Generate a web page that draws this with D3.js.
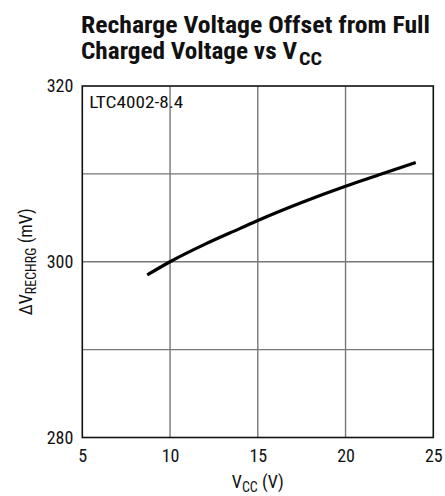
<!DOCTYPE html>
<html>
<head>
<meta charset="utf-8">
<script src="https://cdn.jsdelivr.net/npm/d3@7"></script>
<style>
  body { margin: 0; background: #fff; }
  text { font-family: "Liberation Sans Narrow", "Roboto Condensed", "Liberation Sans", Arial, sans-serif; fill: #111; }
</style>
</head>
<body>
<svg id="chart"></svg>
<script>
// curve
var vcc = [8.7, 10, 12, 14, 15, 17.5, 20, 22, 24];
var dv = [298.5, 300.0, 302.0, 303.8, 304.7, 306.75, 308.6, 309.95, 311.3];
var xTicks = [5, 10, 15, 20, 25];
var yTicks = [280, 290, 300, 310, 320];
var yLabels = [280, 300, 320];

var W = 445, H = 496;
var margin = { left: 82.3, right: 11.7, top: 86, bottom: 58.5 };
var width = W - margin.left - margin.right,
  height = H - margin.top - margin.bottom;
var FONT = '"Liberation Sans Narrow", "Roboto Condensed", "Liberation Sans", Arial, sans-serif';

var svg = d3.select("#chart").attr("width", W).attr("height", H);

var x = d3.scaleLinear().domain([5, 25]).range([0, width]);
var y = d3.scaleLinear().domain([280, 320]).range([height, 0]);

// title
svg.append("text").attr("x", 81).attr("y", 33)
  .attr("textLength", 349).attr("lengthAdjust", "spacingAndGlyphs")
  .style("font-size", "24px").style("font-weight", "bold")
  .text("Recharge Voltage Offset from Full");
svg.append("text").attr("x", 81).attr("y", 59)
  .attr("textLength", 216).attr("lengthAdjust", "spacingAndGlyphs")
  .style("font-size", "24px").style("font-weight", "bold")
  .text("Charged Voltage vs V");
svg.append("text").attr("x", 299).attr("y", 64.5)
  .attr("textLength", 23).attr("lengthAdjust", "spacingAndGlyphs")
  .style("font-size", "18px").style("font-weight", "bold")
  .text("CC");

var g = svg.append("g").attr("transform", `translate(${margin.left},${margin.top})`);

// grid
g.append("g").selectAll("line").data(xTicks.slice(1, -1)).enter().append("line")
  .attr("x1", (d) => x(d)).attr("x2", (d) => x(d))
  .attr("y1", 0).attr("y2", height)
  .style("stroke", "#777").style("stroke-width", 1.4);
g.append("g").selectAll("line").data(yTicks.slice(1, -1)).enter().append("line")
  .attr("y1", (d) => y(d)).attr("y2", (d) => y(d))
  .attr("x1", 0).attr("x2", width)
  .style("stroke", "#777").style("stroke-width", 1.4);

// frame
g.append("rect").attr("width", width).attr("height", height)
  .style("fill", "none").style("stroke", "#111").style("stroke-width", 1.6);

// axes (labels only)
var xAxis = g.append("g").attr("transform", `translate(0,${height})`)
  .call(d3.axisBottom(x).tickValues(xTicks).tickSize(0).tickPadding(12).tickFormat(d3.format("d")));
var yAxis = g.append("g")
  .call(d3.axisLeft(y).tickValues(yLabels).tickSize(0).tickPadding(9).tickFormat(d3.format("d")));
[xAxis, yAxis].forEach(function (a) {
  a.select(".domain").remove();
  a.selectAll("text").style("font-size", "18px").style("fill", "#111").style("font-family", FONT);
});

// curve
var line = d3.line().x((d, i) => x(vcc[i])).y((d) => y(d)).curve(d3.curveMonotoneX);
g.append("path").datum(dv).attr("d", line)
  .style("fill", "none").style("stroke", "#000").style("stroke-width", 3.2);

// part label
g.append("text").attr("x", 7).attr("y", 22)
  .attr("textLength", 94).attr("lengthAdjust", "spacingAndGlyphs")
  .style("font-size", "16.5px").text("LTC4002-8.4");

// x label
var xl = svg.append("text").attr("x", margin.left + width / 2).attr("y", 488)
  .attr("text-anchor", "middle").style("font-size", "18px");
xl.append("tspan").text("V");
xl.append("tspan").attr("dy", 4).style("font-size", "14px").text("CC");
xl.append("tspan").attr("dy", -4).text(" (V)");

// y label
var yl = svg.append("text")
  .attr("transform", `translate(32,${margin.top + height / 2}) rotate(-90)`)
  .attr("text-anchor", "middle").style("font-size", "18px");
yl.append("tspan").text("ΔV");
yl.append("tspan").attr("dy", 4).style("font-size", "14px").text("RECHRG");
yl.append("tspan").attr("dy", -4).text(" (mV)");
</script>
</body>
</html>
